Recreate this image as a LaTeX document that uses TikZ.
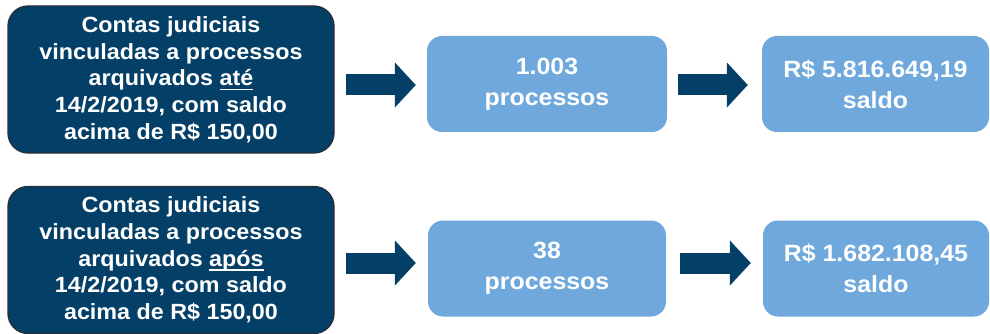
\documentclass[tikz,border=0pt]{standalone}
\usepackage{fontspec}
\setmainfont{Liberation Sans}[FakeStretch=1.06]
\usetikzlibrary{arrows.meta}
\definecolor{darkBox}{RGB}{4, 63, 103}
\definecolor{darkEdge}{RGB}{38, 46, 56}
\definecolor{lightBox}{RGB}{111, 168, 220}
\newcommand{\undr}[1]{\setbox0\hbox{#1}\rlap{\rule[-4.5pt]{\wd0}{1.6pt}}#1}

\begin{document}
\begin{tikzpicture}[x=1pt, y=1pt,
    darkbox/.style={rectangle, rounded corners=20pt, draw=darkEdge, line width=1.3pt, fill=darkBox, text=white, minimum width=326pt, minimum height=147pt, inner sep=0pt, align=center, font=\bfseries\fontsize{22}{26.7}\selectfont},
    lightbox/.style={rectangle, rounded corners=15pt, fill=lightBox, text=white, minimum height=96pt, inner sep=0pt, align=center, font=\bfseries\fontsize{23.5}{31}\selectfont},
    bigarrow/.style={draw=darkBox, line width=21pt, -{Triangle[length=21pt, width=44pt]}}]
    \useasboundingbox (0,0) rectangle (990,-334);

    \node[darkbox] (ate) at (171,-79.5) {Contas judiciais\\vinculadas a processos\\arquivados \undr{até}\\14/2/2019, com saldo\\acima de R\$ 150,00};
    \node[lightbox, minimum width=240pt] (procAte) at (547,-84) {1.003\\processos};
    \node[lightbox, minimum width=227pt] (saldoAte) at (875.5,-84) {R\$ 5.816.649,19\\saldo};

    \node[darkbox] (apos) at (171,-260) {Contas judiciais\\vinculadas a processos\\arquivados \undr{após}\\14/2/2019, com saldo\\acima de R\$ 150,00};
    \node[lightbox, minimum width=238pt] (procApos) at (547,-268.5) {38\\processos};
    \node[lightbox, minimum width=226pt] (saldoApos) at (876,-268.5) {R\$ 1.682.108,45\\saldo};

    % setas entre as caixas
    \coordinate (midAte) at ([yshift=-1pt]procAte.west);
    \coordinate (midApos) at ([yshift=5.5pt]procApos.west);
    \draw[bigarrow, shorten <=11pt, shorten >=11pt] (ate.east |- midAte) -- (midAte);
    \draw[bigarrow, shorten <=11pt, shorten >=14pt] (procAte.east |- midAte) -- (saldoAte.west |- midAte);
    \draw[bigarrow, shorten <=11pt, shorten >=12pt] (apos.east |- midApos) -- (midApos);
    \draw[bigarrow, shorten <=14pt, shorten >=12pt] (procApos.east |- midApos) -- (saldoApos.west |- midApos);
\end{tikzpicture}
\end{document}
